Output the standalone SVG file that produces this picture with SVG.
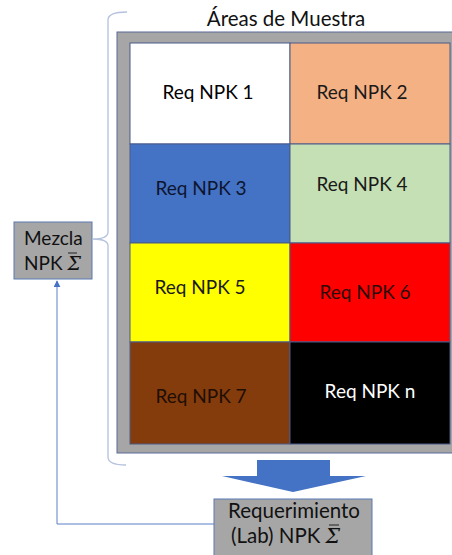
<svg xmlns="http://www.w3.org/2000/svg" width="452" height="555" viewBox="0 0 452 555">
<defs>
<style>
.t{font-family:Lato,"Open Sans","DejaVu Sans",sans-serif;font-size:19px}
.big{font-size:20.5px}
.cell{stroke:#4a5a8a;stroke-width:1}
.box{fill:#a6a6a6;stroke:#5a78b0;stroke-width:1}
.sig{font-family:"DejaVu Serif",serif;font-style:italic}
.bar{stroke:#222;stroke-width:1}
.conn{fill:none;stroke:#5b7fc4;stroke-width:1}
.brace{fill:none;stroke:#b4c2de;stroke-width:1.3}
</style>
<marker id="ah" viewBox="0 0 10 10" refX="9" refY="5" markerWidth="7" markerHeight="7" orient="auto" markerUnits="userSpaceOnUse">
<path d="M0,0 L10,5 L0,10 z" fill="#4472c4"/>
</marker>
</defs>
<rect width="452" height="555" fill="#ffffff"/>
<text class="t big" x="286" y="26" text-anchor="middle" fill="#111">Áreas de Muestra</text>
<g id="area">
<rect x="117" y="32" width="340" height="421" fill="#a6a6a6" stroke="#5a6a9a" stroke-width="1"/>
</g>
<g id="cell1"><rect class="cell" x="130" y="43" width="160" height="101" fill="#ffffff"/><text class="t" x="208" y="99" text-anchor="middle" fill="#000">Req NPK 1</text></g>
<g id="cell2"><rect class="cell" x="290" y="43" width="160" height="101" fill="#f4b183"/><text class="t" x="362" y="99" text-anchor="middle" fill="#1a1a1a">Req NPK 2</text></g>
<g id="cell3"><rect class="cell" x="130" y="144" width="160" height="99" fill="#4472c4"/><text class="t" x="201" y="195" text-anchor="middle" fill="#0d1530">Req NPK 3</text></g>
<g id="cell4"><rect class="cell" x="290" y="144" width="160" height="99" fill="#c5e0b4"/><text class="t" x="362" y="191" text-anchor="middle" fill="#1a1a1a">Req NPK 4</text></g>
<g id="cell5"><rect class="cell" x="130" y="243" width="160" height="99" fill="#ffff00"/><text class="t" x="200" y="294" text-anchor="middle" fill="#1a1a1a">Req NPK 5</text></g>
<g id="cell6"><rect class="cell" x="290" y="243" width="160" height="99" fill="#ff0000"/><text class="t" x="365" y="299" text-anchor="middle" fill="#2a0a0a">Req NPK 6</text></g>
<g id="cell7"><rect class="cell" x="130" y="342" width="160" height="102" fill="#843c0c"/><text class="t" x="201" y="403" text-anchor="middle" fill="#1e0e04">Req NPK 7</text></g>
<g id="celln"><rect class="cell" x="290" y="342" width="160" height="102" fill="#000000"/><text class="t" x="370" y="398" text-anchor="middle" fill="#ffffff">Req NPK n</text></g>
<g id="mezcla">
<rect class="box" x="14" y="222" width="78" height="57"/>
<text class="t" x="24" y="245" fill="#111">Mezcla</text>
<text class="t" x="24" y="270" fill="#111">NPK <tspan class="sig">Σ</tspan></text>
<line class="bar" x1="68" y1="253" x2="77" y2="253"/>
</g>
<g id="requerimiento">
<rect class="box" x="214" y="499" width="158" height="60"/>
<text class="t big" x="294" y="518" text-anchor="middle" fill="#111">Requerimiento</text>
<text class="t big" x="231" y="543" fill="#111">(Lab) NPK <tspan class="sig">Σ</tspan></text>
<line class="bar" x1="329" y1="525" x2="339" y2="525"/>
</g>
<g id="connectors">
<path class="brace" d="M127,12 Q108,12 108,20 L108,232 Q108,239 93,239 Q108,239 108,246 L108,457 Q108,465 126,465"/>
<path d="M257,460 L330,460 L330,476 L366,476 L293,492 L222,476 L257,476 z" fill="#4472c4"/>
<polyline class="conn" points="214,524 57,524 57,281" marker-end="url(#ah)"/>
</g>
</svg>
